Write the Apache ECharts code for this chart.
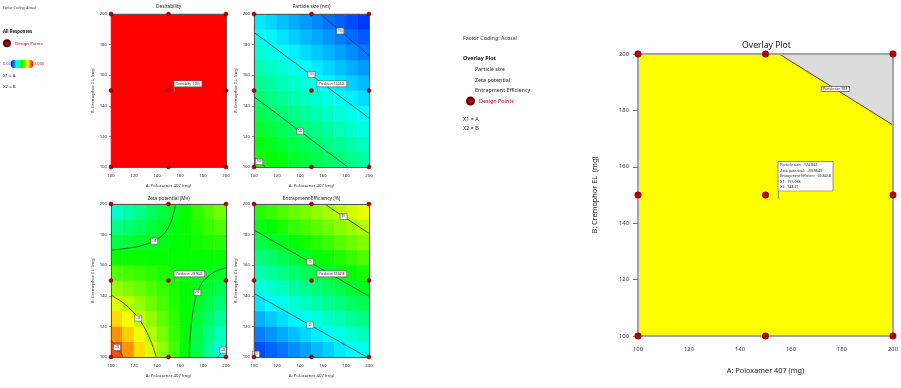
<!DOCTYPE html>
<html><head><meta charset="utf-8">
<script src="https://cdn.jsdelivr.net/npm/echarts@6/dist/echarts.min.js"></script>
<style>html,body{margin:0;padding:0;background:#fff}#c{width:901px;height:388px}</style>
</head><body><div id="c"></div>
<script>
// ---------- data ----------
const axisMin = 100, axisMax = 200, axisStep = 20;
const cellA = ['105','115','125','135','145','155','165','175','185','195'];
const cellB = ['105','115','125','135','145','155','165','175','185','195'];
const desirability = [[1.0]];
// rows: B = 105 ... 195, columns: A = 105 ... 195
const particleSize = [
 [158.0,155.3,152.6,149.8,147.1,144.4,141.6,138.9,136.2,133.5],
 [153.5,150.7,148.0,145.3,142.5,139.8,137.1,134.4,131.6,128.9],
 [148.9,146.2,143.5,140.7,138.0,135.3,132.5,129.8,127.1,124.4],
 [144.4,141.6,138.9,136.2,133.5,130.7,128.0,125.3,122.5,119.8],
 [139.8,137.1,134.4,131.6,128.9,126.2,123.5,120.7,118.0,115.3],
 [135.3,132.6,129.8,127.1,124.4,121.6,118.9,116.2,113.5,110.7],
 [130.7,128.0,125.3,122.5,119.8,117.1,114.4,111.6,108.9,106.2],
 [126.2,123.5,120.7,118.0,115.3,112.6,109.8,107.1,104.4,101.6],
 [121.6,118.9,116.2,113.5,110.7,108.0,105.3,102.5,99.8,97.1],
 [117.1,114.4,111.6,108.9,106.2,103.5,100.7,98.0,95.3,92.5]
];
const zetaPotential = [
 [-27.83,-29.12,-30.41,-31.71,-33.00,-34.29,-35.59,-36.88,-38.17,-39.47],
 [-29.08,-30.16,-31.24,-32.32,-33.40,-34.48,-35.56,-36.64,-37.72,-38.81],
 [-30.33,-31.20,-32.07,-32.94,-33.80,-34.67,-35.54,-36.41,-37.27,-38.14],
 [-31.59,-32.24,-32.90,-33.55,-34.21,-34.86,-35.51,-36.17,-36.82,-37.48],
 [-32.84,-33.28,-33.72,-34.17,-34.61,-35.05,-35.49,-35.93,-36.37,-36.81],
 [-34.09,-34.32,-34.55,-34.78,-35.01,-35.24,-35.47,-35.69,-35.92,-36.15],
 [-35.35,-35.36,-35.38,-35.39,-35.41,-35.43,-35.44,-35.46,-35.47,-35.49],
 [-36.60,-36.40,-36.21,-36.01,-35.81,-35.61,-35.42,-35.22,-35.02,-34.82],
 [-37.85,-37.44,-37.03,-36.62,-36.21,-35.80,-35.39,-34.98,-34.57,-34.16],
 [-39.11,-38.49,-37.86,-37.24,-36.61,-35.99,-35.37,-34.74,-34.12,-33.50]
];
const entrapment = [
 [51.5,52.6,53.6,54.7,55.7,56.8,57.8,58.9,59.9,61.0],
 [54.0,55.0,56.1,57.1,58.2,59.2,60.3,61.3,62.4,63.4],
 [56.4,57.5,58.5,59.6,60.6,61.7,62.7,63.8,64.8,65.9],
 [58.9,59.9,61.0,62.0,63.1,64.1,65.1,66.2,67.2,68.3],
 [61.3,62.3,63.4,64.4,65.5,66.5,67.6,68.6,69.7,70.7],
 [63.7,64.8,65.8,66.9,67.9,69.0,70.0,71.1,72.1,73.2],
 [66.2,67.2,68.3,69.3,70.4,71.4,72.5,73.5,74.6,75.6],
 [68.6,69.7,70.7,71.8,72.8,73.9,74.9,76.0,77.0,78.1],
 [71.1,72.1,73.2,74.2,75.3,76.3,77.3,78.4,79.4,80.5],
 [73.5,74.5,75.6,76.6,77.7,78.7,79.8,80.8,81.9,82.9]
];
const psContours = [
 [[157.6,200],[200,173]],
 [[100,188],[200,132]],
 [[100,146],[181.4,100]],
 [[100,106.5],[110,100]]
];
const psLabels = [[175,188.9,'100'],[150,160.5,'120'],[140,123.4,'140'],[104.6,103.5,'160']];
const zetaContours = [
 [[100,169.9],[112.5,170.9],[125,172.5],[137.5,175.7],[145,179.7],[150,184.7],[152.5,188.9],[154,192.5],[155,195.5],[156.2,200]],
 [[167.9,100],[168,102.3],[168.5,109.1],[170,122.9],[172.5,135.3],[175,142.1],[180,149.4],[190,155.7],[200,158.4]],
 [[100,140.4],[110,135.7],[120,128.9],[125,124.2],[130,118],[135,109.8],[137.5,104.5],[139,100.8],[139.3,100]],
 [[100,111],[105,106.4],[107.5,103.7],[110,100.9],[110.4,100]],
 [[193,100],[195,102.1],[200,106.5]]
];
const zetaLabels = [[137.6,175.7,'-36'],[175,142.1,'-36'],[123.7,125.4,'-32'],[105.2,106.3,'-28'],[197.7,104.5,'-40']];
const eeContours = [
 [[161.3,200],[200,180.8]],
 [[100,183],[200,139.7]],
 [[100,141.5],[198,100]],
 [[100,103],[103.5,100]]
];
const eeLabels = [[177.9,191.8,'80'],[148.8,162.2,'70'],[148.8,120.9,'60'],[101.8,101.8,'50']];
const designPoints = [[100,100],[150,100],[200,100],[100,150],[150,150],[200,150],[100,200],[150,200],[200,200]];
const flagPoint = [155.033,148.71];
const flagTexts = ['Desirability  1.000','Prediction  124.842','Prediction  -33.9643','Prediction  69.8458'];
const overlayFlagText = 'Particle size:   124.842\nZeta potential:   -33.9643\nEntrapment Efficien:   69.8458\nX1   155.033\nX2   148.71';
const overlayBoundary = [[155.4,200],[200,174.8]];
const overlayBoundaryLabel = [177.4,187.6,'Particle size: 98.5'];
const plotTitles = ['Desirability','Particle size (nm)','Zeta potential (Mv)','Entrapment Efficiency (%)','Overlay Plot'];
const xName = 'A: Poloxamer 407 (mg)', yName = 'B: Cremophor EL  (mg)';

// ---------- layout / style ----------
const FONT = 'Noto Sans';
const scale = ['#0000ff','#00ffff','#00ff00','#ffff00','#ff0000'];
const borderC = '#555';
const grids = [
 {left:111, top:14, width:115, height:153},
 {left:254, top:14, width:115, height:153},
 {left:111, top:204, width:115, height:153},
 {left:254, top:204, width:115, height:153},
 {left:638, top:54, width:257, height:282}
];
const chart = echarts.init(document.getElementById('c'));
const xAxes = [], yAxes = [];
for (let g = 0; g < 4; g++) {
  xAxes.push({type:'value', gridIndex:g, min:axisMin, max:axisMax, interval:axisStep, position:'bottom', z:5,
    axisLine:{show:true,onZero:false,lineStyle:{color:borderC,width:1}}, axisTick:{show:false},
    axisLabel:{fontSize:4.3,color:'#333',margin:7,fontFamily:FONT}, splitLine:{show:false},
    name:xName, nameLocation:'middle', nameGap:17, nameTextStyle:{fontSize:4.3,color:'#333',fontFamily:FONT}});
  xAxes.push({type:'category', gridIndex:g, data: g===0?['all']:cellA, position:'top', z:5,
    axisLine:{show:true,onZero:false,lineStyle:{color:borderC,width:1}}, axisTick:{show:false}, axisLabel:{show:false}, splitLine:{show:false}});
  yAxes.push({type:'value', gridIndex:g, min:axisMin, max:axisMax, interval:axisStep, position:'left', z:5,
    axisLine:{show:true,onZero:false,lineStyle:{color:borderC,width:1}}, axisTick:{show:true,length:2,lineStyle:{color:'#444',width:0.6}},
    axisLabel:{fontSize:4.3,color:'#333',margin:4,fontFamily:FONT}, splitLine:{show:false},
    name:yName, nameLocation:'middle', nameGap:16, nameTextStyle:{fontSize:4.3,color:'#333',fontFamily:FONT}});
  yAxes.push({type:'category', gridIndex:g, data: g===0?['all']:cellB, position:'right', z:5,
    axisLine:{show:true,onZero:false,lineStyle:{color:borderC,width:1}}, axisTick:{show:false}, axisLabel:{show:false}, splitLine:{show:false}});
}
const oC = '#a4a4a4';
xAxes.push({type:'value', gridIndex:4, min:axisMin, max:axisMax, interval:axisStep, position:'bottom', z:5,
  axisLine:{show:true,onZero:false,lineStyle:{color:oC,width:2}}, axisTick:{show:false},
  axisLabel:{fontSize:5.8,color:'#333',margin:10,fontFamily:FONT}, splitLine:{show:false},
  name:xName, nameLocation:'middle', nameGap:31, nameTextStyle:{fontSize:7.3,color:'#222',fontFamily:FONT}});
xAxes.push({type:'value', gridIndex:4, min:axisMin, max:axisMax, position:'top', z:5,
  axisLine:{show:true,onZero:false,lineStyle:{color:oC,width:2}}, axisTick:{show:false}, axisLabel:{show:false}, splitLine:{show:false}});
yAxes.push({type:'value', gridIndex:4, min:axisMin, max:axisMax, interval:axisStep, position:'left', z:5,
  axisLine:{show:true,onZero:false,lineStyle:{color:oC,width:2}}, axisTick:{show:true,length:5,lineStyle:{color:'#555',width:0.8}},
  axisLabel:{fontSize:5.8,color:'#333',margin:9,fontFamily:FONT}, splitLine:{show:false},
  name:yName, nameLocation:'middle', nameGap:40, nameTextStyle:{fontSize:7.3,color:'#222',fontFamily:FONT}});
yAxes.push({type:'value', gridIndex:4, min:axisMin, max:axisMax, position:'right', z:5,
  axisLine:{show:true,onZero:false,lineStyle:{color:oC,width:2}}, axisTick:{show:false}, axisLabel:{show:false}, splitLine:{show:false}});

function cells(grid){ const out=[]; grid.forEach((row,j)=>row.forEach((v,i)=>out.push([i,j,v]))); return out; }
const series = [];
[desirability, particleSize, zetaPotential, entrapment].forEach((gr,g)=>{
  series.push({type:'heatmap', xAxisIndex:2*g+1, yAxisIndex:2*g+1, data:cells(gr), itemStyle:{borderWidth:0}, emphasis:{disabled:true}, silent:true, z:1});
});
series.push({type:'line', xAxisIndex:8, yAxisIndex:8, data:overlayBoundary, symbol:'none', silent:true, z:2,
  lineStyle:{color:'#4a4a4a',width:1}, areaStyle:{color:'#dcdcdc',opacity:1,origin:'end'}});
function contours(g, list){ list.forEach(pts=>series.push({type:'line', xAxisIndex:2*g, yAxisIndex:2*g, data:pts, symbol:'none', smooth:0.3, silent:true, z:3, lineStyle:{color:'#163a3a',width:0.8}})); }
function contourLabels(g, labels){ series.push({type:'scatter', xAxisIndex:2*g, yAxisIndex:2*g, silent:true, z:4,
  data:labels.map(l=>({value:[l[0],l[1]], name:l[2]})), symbol:'rect', symbolSize:[7,6],
  itemStyle:{color:'#fff',borderColor:'#555',borderWidth:0.6,opacity:1},
  label:{show:true,position:'inside',formatter:'{b}',fontSize:2.6,color:'#222',fontFamily:FONT}}); }
contours(1, psContours); contourLabels(1, psLabels);
contours(2, zetaContours); contourLabels(2, zetaLabels);
contours(3, eeContours); contourLabels(3, eeLabels);
for (let g = 0; g < 5; g++) {
  series.push({name:'Design Points', type:'scatter', xAxisIndex:2*g, yAxisIndex:2*g, data:designPoints, symbolSize: g<4?4:6.5, z:10,
    itemStyle:{color:'#c00000',borderColor:'#5a0000',borderWidth:0.5,opacity:1}});
}
function flag(g, text, len, fs){
  series.push({type:'scatter', xAxisIndex:2*g, yAxisIndex:2*g, data:[flagPoint], symbol:'rect', symbolSize:[0.8,len], symbolOffset:[0,-len/2],
    itemStyle:{color:'#777',opacity:1}, silent:true, z:11,
    label:{show:true, position:'top', distance:0, align:'left', formatter:text, fontSize:fs, lineHeight:fs*1.55, color:'#222', fontFamily:FONT,
      backgroundColor:'#ffffff', borderColor:'#666', borderWidth:0.7, padding:[0.5,2]}});
}
flagTexts.forEach((t,g)=>flag(g, t, 6, 2.8));
flag(4, overlayFlagText, 8, 3.6);
series.push({type:'scatter', xAxisIndex:8, yAxisIndex:8, data:[{value:[overlayBoundaryLabel[0],overlayBoundaryLabel[1]], name:overlayBoundaryLabel[2]}],
  symbol:'rect', symbolSize:1, itemStyle:{color:'rgba(0,0,0,0)',opacity:1}, silent:true, z:11,
  label:{show:true, position:'inside', formatter:'{b}', fontSize:3, color:'#222', fontFamily:FONT, backgroundColor:'#fff', borderColor:'#555', borderWidth:0.7, padding:[0.5,1.5]}});

function txt(x,y,t,o){ o=o||{}; return {type:'text', x:x, y:y, silent:true, z:20, style:{text:t, fill:o.fill||'#222', fontSize:o.fs||5, fontWeight:o.fw||'normal', fontFamily:FONT, align:o.align||'left', verticalAlign:'middle'}}; }
const graphics = [
  txt(3,8.3,'Factor Coding: Actual',{fs:3.3,fill:'#333'}),
  txt(3,31.7,'All Responses',{fs:4.3,fw:'bold',fill:'#111'}),
  txt(3,64,'0.000',{fs:4,fill:'#3a3aff'}),
  txt(34,64,'1.000',{fs:4,fill:'#e00000'}),
  txt(3,76,'X1 = A',{fs:4.3}),
  txt(3,86.7,'X2 = B',{fs:4.3}),
  txt(463,38.3,'Factor Coding: Actual',{fs:5.4,fill:'#333'}),
  txt(463,58.3,'Overlay Plot',{fs:5.4,fw:'bold',fill:'#111'}),
  txt(475,69.3,'Particle size',{fs:5.4}),
  txt(475,80,'Zeta potential',{fs:5.4}),
  txt(475,90,'Entrapment Efficiency',{fs:5.4}),
  txt(463,119.3,'X1 = A',{fs:5.4}),
  txt(463,128.3,'X2 = B',{fs:5.4}),
  txt(168.5,7,plotTitles[0],{fs:4.8,align:'center'}),
  txt(311.5,7,plotTitles[1],{fs:4.8,align:'center'}),
  txt(168.5,198.3,plotTitles[2],{fs:4.8,align:'center'}),
  txt(311.5,198.3,plotTitles[3],{fs:4.8,align:'center'}),
  txt(766.5,45.7,plotTitles[4],{fs:8.6,align:'center',fill:'#222'})
];

chart.setOption({
  animation:false,
  backgroundColor:'#fff',
  grid: grids.map((g,i)=> i===4 ? Object.assign({show:true, backgroundColor:'#ffff00', borderWidth:0}, g) : Object.assign({show:false}, g)),
  xAxis:xAxes, yAxis:yAxes,
  legend:[
    {data:['Design Points'], left:3, top:39.3, itemWidth:6, itemHeight:6, icon:'circle', padding:0, selectedMode:false, textStyle:{color:'#c00000',fontSize:4.3,fontFamily:FONT}},
    {data:['Design Points'], left:466, top:96.5, itemWidth:7, itemHeight:7, icon:'circle', padding:0, selectedMode:false, textStyle:{color:'#c00000',fontSize:5.4,fontFamily:FONT}}
  ],
  visualMap:[
    {type:'continuous', seriesIndex:0, min:0, max:1, show:true, orient:'horizontal', left:11, top:60, itemWidth:8, itemHeight:22, text:null, calculable:false, padding:0, hoverLink:false, inRange:{color:scale}},
    {type:'continuous', seriesIndex:1, min:85, max:225, show:false, inRange:{color:scale}},
    {type:'continuous', seriesIndex:2, min:-44.5, max:-26.5, show:false, inRange:{color:scale}},
    {type:'continuous', seriesIndex:3, min:48, max:96, show:false, inRange:{color:scale}}
  ],
  graphic:graphics,
  series:series
});
</script></body></html>
